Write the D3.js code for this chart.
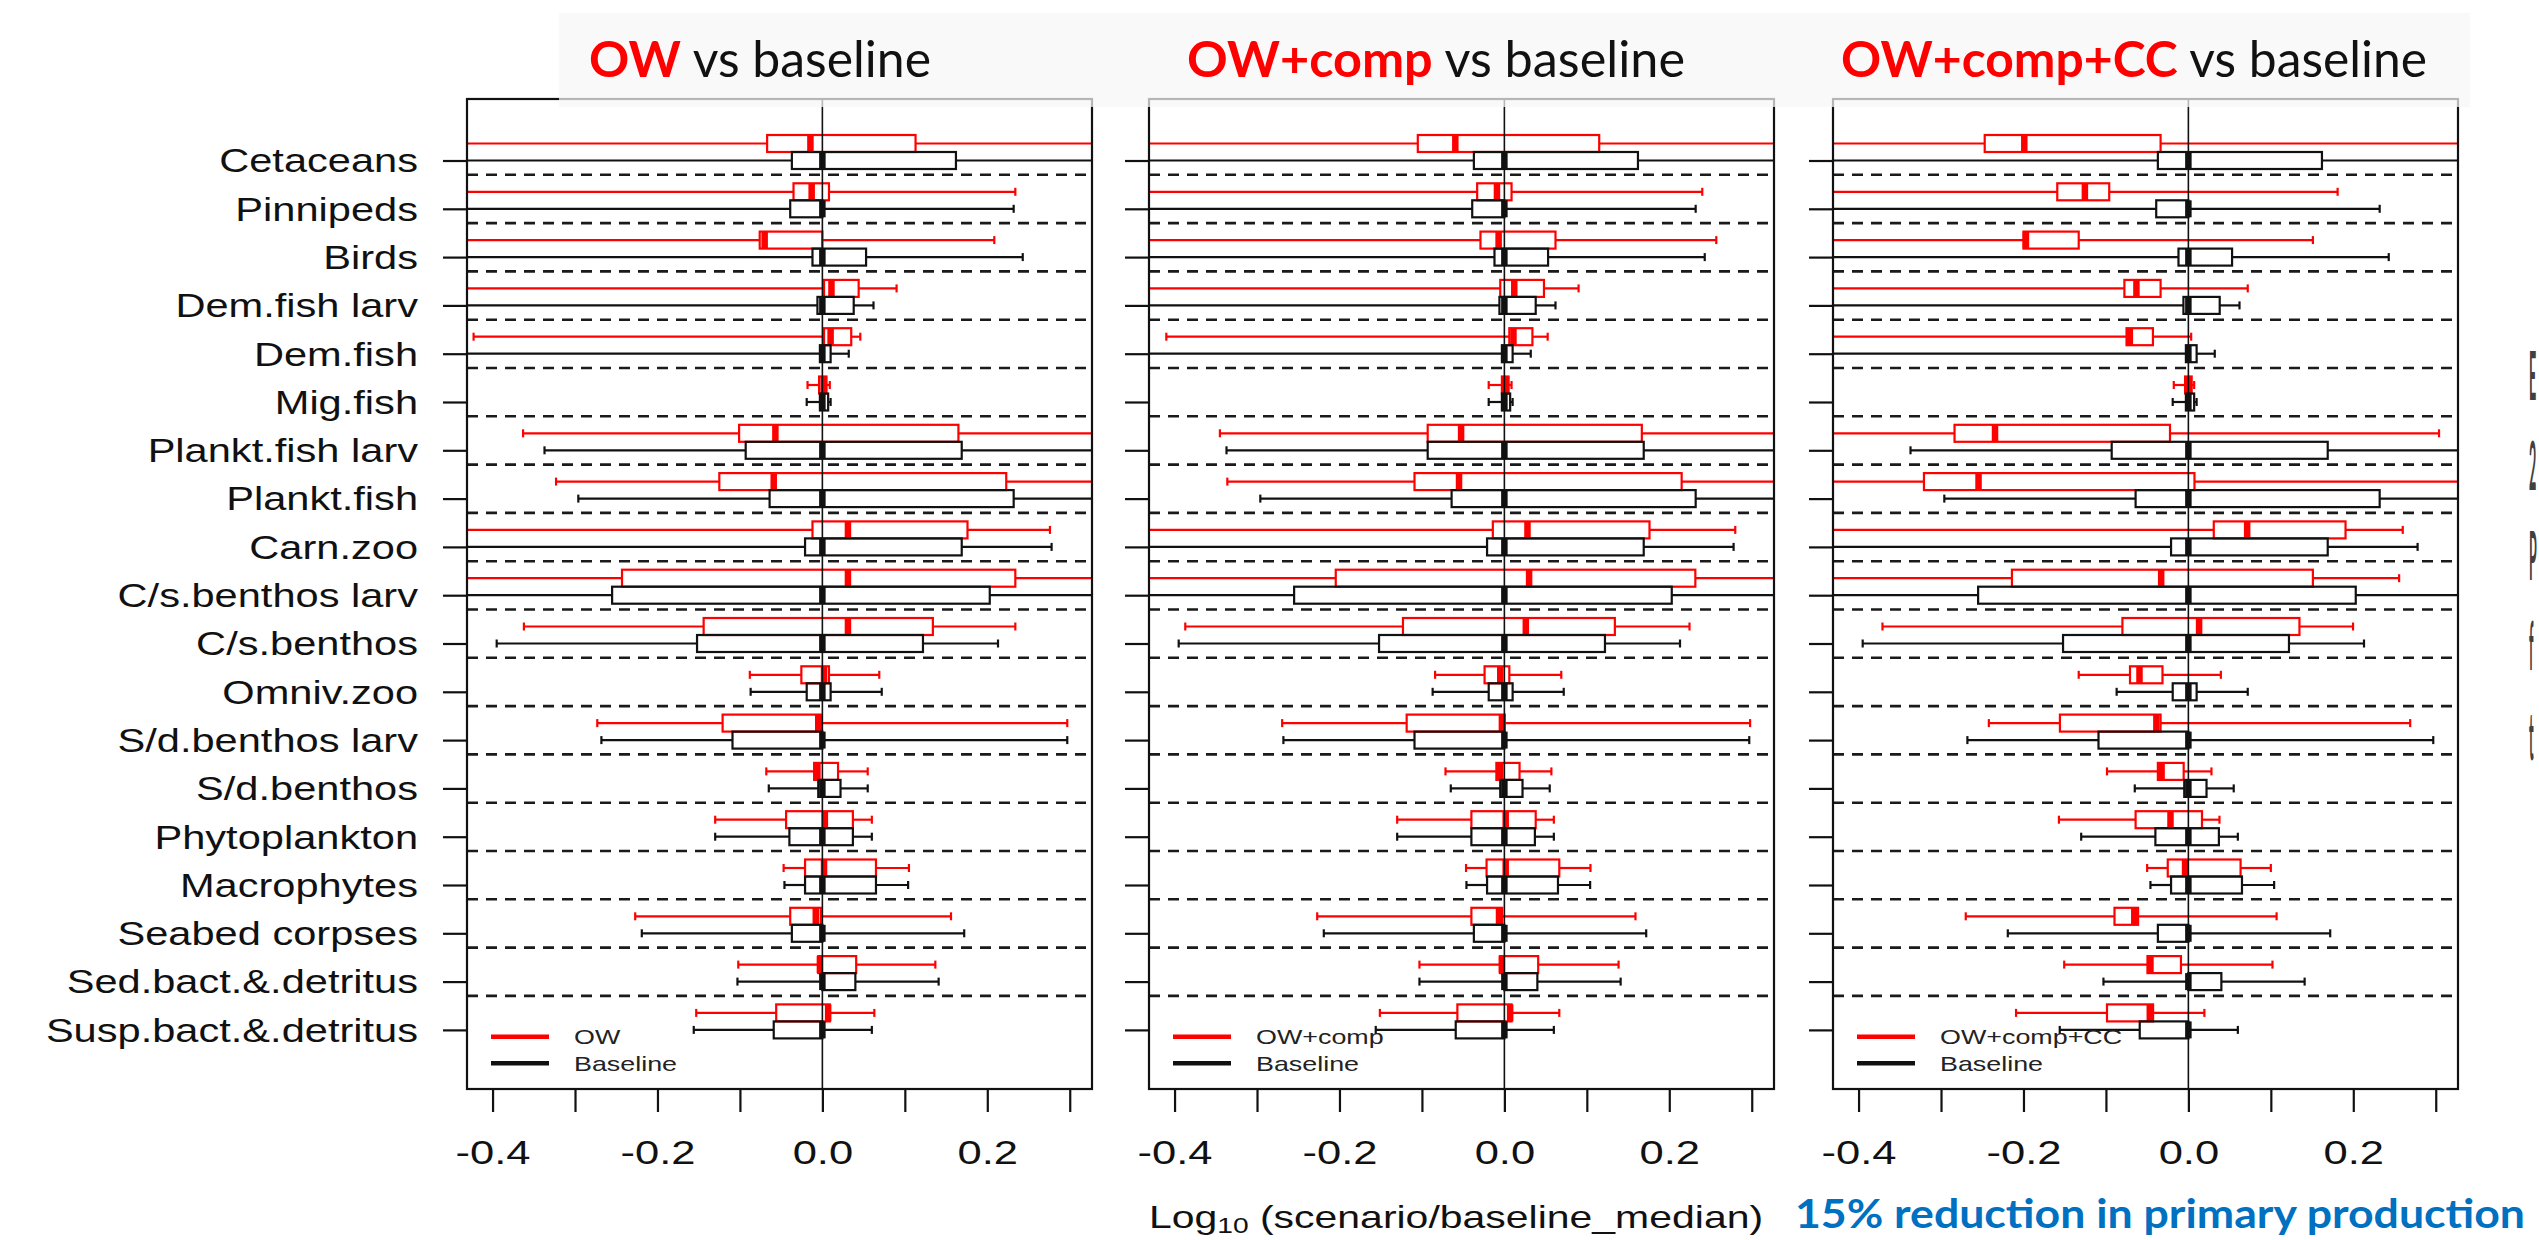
<!DOCTYPE html>
<meta charset="utf-8">
<style>
body { margin: 0; background: #fff; }
svg { display: block; background: #fff; }
</style>
<svg width="2539" height="1240"></svg>
<script src="https://d3js.org/d3.v7.min.js"></script>
<script>

// ---- data: [lower whisker, q1, median, q3, upper whisker] per functional group
// values outside the plotted range are whiskers that run off the panel
var categories = ["Cetaceans", "Pinnipeds", "Birds", "Dem.fish larv", "Dem.fish", "Mig.fish",
    "Plankt.fish larv", "Plankt.fish", "Carn.zoo", "C/s.benthos larv", "C/s.benthos", "Omniv.zoo",
    "S/d.benthos larv", "S/d.benthos", "Phytoplankton", "Macrophytes", "Seabed corpses",
    "Sed.bact.&.detritus", "Susp.bact.&.detritus"];

var scenarioNames = ["OW", "OW+comp", "OW+comp+CC"];

var baseline = [
    [-0.52, -0.037, 0, 0.162, 0.42],
    [-0.50, -0.039, 0, 0, 0.232],
    [-0.49, -0.012, 0, 0.053, 0.243],
    [-0.47, -0.006, 0, 0.038, 0.062],
    [-0.46, -0.003, 0, 0.010, 0.032],
    [-0.019, -0.003, 0, 0.007, 0.010],
    [-0.337, -0.093, 0, 0.169, 0.40],
    [-0.296, -0.064, 0, 0.232, 0.38],
    [-0.48, -0.021, 0, 0.169, 0.278],
    [-0.50, -0.255, 0, 0.203, 0.39],
    [-0.395, -0.152, 0, 0.122, 0.213],
    [-0.087, -0.019, 0, 0.010, 0.072],
    [-0.268, -0.109, 0, 0, 0.297],
    [-0.065, -0.005, 0, 0.022, 0.055],
    [-0.130, -0.040, 0, 0.037, 0.060],
    [-0.046, -0.021, 0, 0.065, 0.104],
    [-0.219, -0.037, 0, 0, 0.172],
    [-0.103, 0, 0, 0.040, 0.141],
    [-0.156, -0.059, 0, 0, 0.060]
];

var ow = [
    [-0.55, -0.067, -0.0145, 0.113, 0.45],
    [-0.52, -0.035, -0.013, 0.008, 0.234],
    [-0.50, -0.076, -0.070, 0.0, 0.2085],
    [-0.48, 0.002, 0.011, 0.044, 0.090],
    [-0.423, 0.002, 0.010, 0.035, 0.046],
    [-0.018, -0.004, 0.0015, 0.005, 0.009],
    [-0.363, -0.101, -0.057, 0.165, 0.42],
    [-0.323, -0.125, -0.059, 0.223, 0.40],
    [-0.47, -0.012, 0.031, 0.176, 0.276],
    [-0.52, -0.243, 0.031, 0.234, 0.41],
    [-0.362, -0.144, 0.031, 0.134, 0.234],
    [-0.088, -0.0255, 0.002, 0.008, 0.069],
    [-0.273, -0.121, -0.005, -0.002, 0.297],
    [-0.068, -0.010, -0.006, 0.019, 0.055],
    [-0.130, -0.044, 0.003, 0.037, 0.060],
    [-0.047, -0.021, 0.002, 0.065, 0.105],
    [-0.227, -0.039, -0.008, -0.002, 0.156],
    [-0.102, -0.005, -0.003, 0.041, 0.137],
    [-0.153, -0.056, 0.007, 0.009, 0.063]
];

var owComp = [
    [-0.55, -0.105, -0.0595, 0.115, 0.45],
    [-0.52, -0.033, -0.009, 0.0087, 0.240],
    [-0.50, -0.029, -0.007, 0.062, 0.257],
    [-0.48, -0.005, 0.012, 0.048, 0.090],
    [-0.410, 0.006, 0.011, 0.034, 0.0525],
    [-0.019, -0.003, 0.002, 0.005, 0.0087],
    [-0.345, -0.093, -0.0525, 0.1667, 0.42],
    [-0.336, -0.109, -0.055, 0.215, 0.40],
    [-0.47, -0.014, 0.028, 0.176, 0.280],
    [-0.52, -0.2045, 0.030, 0.2316, 0.41],
    [-0.387, -0.123, 0.026, 0.134, 0.2245],
    [-0.084, -0.024, -0.005, 0.006, 0.069],
    [-0.2695, -0.1185, -0.003, 0.0005, 0.298],
    [-0.0714, -0.0097, -0.005, 0.0184, 0.057],
    [-0.130, -0.040, 0.0016, 0.038, 0.060],
    [-0.0465, -0.0216, 0.0016, 0.0666, 0.1044],
    [-0.227, -0.040, -0.0065, -0.0027, 0.159],
    [-0.103, -0.0054, -0.003, 0.041, 0.1385],
    [-0.151, -0.057, 0.007, 0.0087, 0.0666]
];

var owCompCC = [
    [-0.55, -0.247, -0.199, -0.0337, 0.45],
    [-0.52, -0.159, -0.1255, -0.096, 0.181],
    [-0.50, -0.200, -0.197, -0.133, 0.151],
    [-0.48, -0.0776, -0.063, -0.0337, 0.072],
    [-0.48, -0.075, -0.071, -0.043, 0.0034],
    [-0.0177, -0.004, 0, 0.004, 0.007],
    [-0.47, -0.2836, -0.2345, -0.0223, 0.304],
    [-0.47, -0.3207, -0.2545, 0.0074, 0.40],
    [-0.47, 0.0308, 0.0713, 0.1906, 0.260],
    [-0.52, -0.214, -0.033, 0.151, 0.2556],
    [-0.371, -0.080, 0.013, 0.1347, 0.1997],
    [-0.133, -0.0708, -0.0593, -0.0314, 0.0394],
    [-0.242, -0.1558, -0.0388, -0.0337, 0.269],
    [-0.0987, -0.037, -0.0325, -0.0057, 0.028],
    [-0.157, -0.064, -0.0217, 0.0165, 0.0377],
    [-0.050, -0.025, -0.004, 0.0633, 0.100],
    [-0.270, -0.0896, -0.0656, -0.061, 0.107],
    [-0.1506, -0.0496, -0.046, -0.009, 0.102],
    [-0.209, -0.0987, -0.0468, -0.0428, 0.0194]
];

var xTicks = [-0.4, -0.3, -0.2, -0.1, 0.0, 0.1, 0.2, 0.3];
var xTickLabels = ["-0.4", "", "-0.2", "", "0.0", "", "0.2", ""];

// ---- layout
var svg = d3.select("svg");
var panelLeft = [467, 1149, 1833],
    panelW = 625,
    frameTop = 99,
    frameBottom = 1089;
var stretch = 1.28;          // the R figure was stretched sideways on the slide
var red = "#ff0000", ink = "#111";
var rFont = "'Liberation Sans', Arial, sans-serif";
var slideFont = "Lato, 'Open Sans', sans-serif";
var scenarios = [ow, owComp, owCompCC];
var titleCenter = [760, 1436, 2134];
var titleLength = [342, 498, 586];

var x = d3.scaleLinear().domain([-0.431, 0.327]).range([0, panelW]);
var y = d3.scaleLinear().domain([0, categories.length - 1]).range([160.5, 1029.9]);
var redOff = -17, boxH = 17, dashOff = 14.3, staple = 4;

svg.append("defs").append("clipPath").attr("id", "plotclip")
    .append("rect")
    .attr("x", 0).attr("y", frameTop)
    .attr("width", panelW).attr("height", frameBottom - frameTop);

function drawBox(g, s, yc, color) {
    var lo = s[0], q1 = s[1], med = s[2], q3 = s[3], hi = s[4];
    var w = g.append("g").attr("stroke", color).attr("stroke-width", 2.2).attr("fill", "none");
    w.append("line").attr("x1", x(lo)).attr("x2", x(q1)).attr("y1", yc).attr("y2", yc);
    w.append("line").attr("x1", x(q3)).attr("x2", x(hi)).attr("y1", yc).attr("y2", yc);
    w.append("line").attr("x1", x(lo)).attr("x2", x(lo)).attr("y1", yc - staple).attr("y2", yc + staple);
    w.append("line").attr("x1", x(hi)).attr("x2", x(hi)).attr("y1", yc - staple).attr("y2", yc + staple);
    w.append("rect")
        .attr("x", x(q1)).attr("y", yc - boxH / 2)
        .attr("width", Math.max(x(q3) - x(q1), 0.5)).attr("height", boxH);
    g.append("rect")
        .attr("x", x(med) - 3.25).attr("y", yc - boxH / 2)
        .attr("width", 6.5).attr("height", boxH)
        .attr("fill", color);
}

scenarios.forEach(function (data, p) {
    var panel = svg.append("g").attr("transform", "translate(" + panelLeft[p] + ",0)");
    var plot = panel.append("g").attr("clip-path", "url(#plotclip)");

    // dashed separators between groups
    plot.append("g").selectAll("line")
        .data(d3.range(categories.length - 1))
        .enter().append("line")
        .attr("x1", 0).attr("x2", panelW)
        .attr("y1", function (i) { return y(i) + dashOff; })
        .attr("y2", function (i) { return y(i) + dashOff; })
        .attr("stroke", "#1a1a1a").attr("stroke-width", 2.6)
        .attr("stroke-dasharray", "11,8");

    categories.forEach(function (c, i) {
        drawBox(plot, data[i], y(i) + redOff, red);
        drawBox(plot, baseline[i], y(i), ink);
    });

    // zero line
    panel.append("line")
        .attr("x1", x(0)).attr("x2", x(0))
        .attr("y1", frameTop).attr("y2", frameBottom)
        .attr("stroke", ink).attr("stroke-width", 1.6);

    // frame
    panel.append("rect")
        .attr("x", 0).attr("y", frameTop)
        .attr("width", panelW).attr("height", frameBottom - frameTop)
        .attr("fill", "none").attr("stroke", ink).attr("stroke-width", 2.2);

    // left axis (labels only on the first panel)
    var yAxis = panel.append("g")
        .style("color", ink)
        .call(d3.axisLeft(y)
            .tickValues(d3.range(categories.length))
            .tickSize(24)
            .tickFormat(function (i) { return p === 0 ? categories[i] : ""; }));
    yAxis.select(".domain").remove();
    yAxis.selectAll(".tick line").attr("stroke-width", 2.2);
    yAxis.selectAll("text")
        .attr("font-family", rFont).attr("font-size", 32.5)
        .attr("fill", "#111")
        .attr("x", -49 / stretch).attr("dy", "0.35em")
        .attr("transform", "scale(" + stretch + ",1)");

    // bottom axis
    var xAxis = panel.append("g")
        .attr("transform", "translate(0," + (frameBottom + 1) + ")")
        .style("color", ink)
        .call(d3.axisBottom(x)
            .tickValues(xTicks)
            .tickSize(22)
            .tickFormat(function (d, i) { return xTickLabels[i]; }));
    xAxis.select(".domain").remove();
    xAxis.selectAll(".tick line").attr("stroke-width", 2.2);
    xAxis.selectAll("text")
        .attr("font-family", rFont).attr("font-size", 34)
        .attr("fill", "#111")
        .attr("y", 62).attr("dy", "0.35em")
        .attr("transform", "scale(" + stretch + ",1)");

    // legend
    var legend = panel.append("g");
    [[scenarioNames[p], red, -52.3], ["Baseline", ink, -25.7]].forEach(function (it) {
        var ly = frameBottom + it[2];
        legend.append("line")
            .attr("x1", 24).attr("x2", 82).attr("y1", ly).attr("y2", ly)
            .attr("stroke", it[1]).attr("stroke-width", 4.5);
        legend.append("text")
            .attr("transform", "translate(107," + ly + ") scale(" + stretch + ",1)")
            .attr("dy", "0.35em")
            .attr("font-family", rFont).attr("font-size", 21)
            .attr("fill", "#222")
            .text(it[0]);
    });
});

// slide title band laid over the top of the figure
svg.append("rect")
    .attr("x", 559).attr("y", 13).attr("width", 1911).attr("height", 94)
    .attr("fill", "#f6f6f6").attr("opacity", 0.72);

scenarioNames.forEach(function (name, p) {
    var t = svg.append("text")
        .attr("x", titleCenter[p]).attr("y", 77)
        .attr("text-anchor", "middle")
        .attr("font-family", slideFont).attr("font-size", 50)
        .attr("textLength", titleLength[p])
        .attr("lengthAdjust", "spacingAndGlyphs");
    t.append("tspan").attr("fill", red).attr("font-weight", "bold").text(name);
    t.append("tspan").attr("fill", "#111").text(" vs baseline");
});

// x axis title, centred under the middle panel
var xl = svg.append("text")
    .attr("transform", "translate(1456,1228) scale(" + stretch + ",1)")
    .attr("text-anchor", "middle")
    .attr("font-family", rFont).attr("font-size", 32)
    .attr("fill", "#111");
xl.append("tspan").text("Log");
xl.append("tspan").attr("font-size", 22).attr("dy", 5).text("10");
xl.append("tspan").attr("dy", -5).text(" (scenario/baseline_median)");

svg.append("text")
    .attr("x", 1795).attr("y", 1228)
    .attr("font-family", slideFont).attr("font-weight", "bold").attr("font-size", 40)
    .attr("fill", "#0070c0")
    .attr("textLength", 730).attr("lengthAdjust", "spacingAndGlyphs")
    .text("15% reduction in primary production");

// slide text that runs off the right edge: only a sliver of each line shows,
// so each first letter is squeezed into the last few pixels
var edgeLetters = ["E", "2", "P", "f", "t"];
svg.append("g").selectAll("text")
    .data(edgeLetters)
    .enter().append("text")
    .attr("transform", function (d, i) {
        return "translate(2529," + (400 + i * 90) + ") scale(0.19,1)";
    })
    .attr("font-family", slideFont).attr("font-weight", "bold").attr("font-size", 66)
    .attr("fill", "#404040")
    .text(function (d) { return d; });

</script>
